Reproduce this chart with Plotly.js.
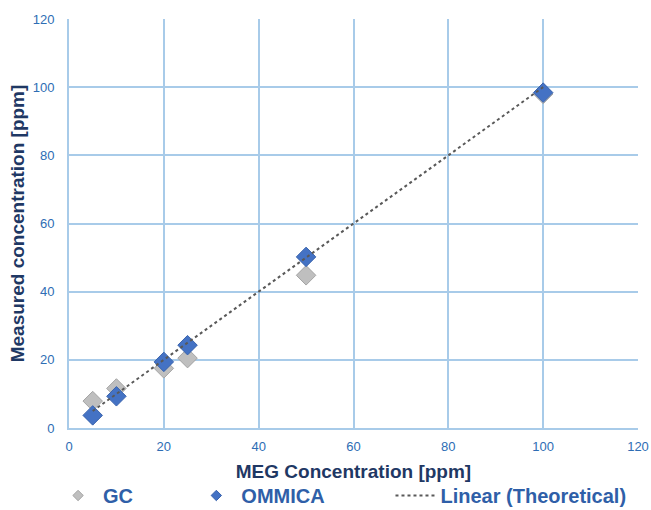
<!DOCTYPE html>
<html><head><meta charset="utf-8">
<script src="https://cdn.plot.ly/plotly-3.0.1.min.js"></script>
<style>body{margin:0;background:#fff}#c{width:651px;height:510px}</style>
</head><body><div id="c"></div>
<script>
const xConc = [5, 10, 20, 25, 50, 100];
const gcVals = [7.9, 11.6, 17.5, 20.5, 44.8, 98.0];
const ommicaVals = [3.7, 9.3, 19.4, 24.3, 50.2, 98.4];
const linX = [5, 100];
const linY = [5, 100];
const xTicks = [0, 20, 40, 60, 80, 100, 120];
const yTicks = [0, 20, 40, 60, 80, 100, 120];

const gcMarker = {symbol: 'diamond', color: '#bfbfbf', line: {color: '#a5a5a5', width: 1}};
const omMarker = {symbol: 'diamond', color: '#4472c4', line: {color: '#3a64ad', width: 1}};

const traces = [
  {x: xConc, y: gcVals, name: 'GC', mode: 'markers', type: 'scatter', showlegend: false,
   marker: Object.assign({size: 15}, gcMarker)},
  {x: xConc, y: ommicaVals, name: 'OMMICA', mode: 'markers', type: 'scatter', showlegend: false,
   marker: Object.assign({size: 15}, omMarker)},
  {x: linX, y: linY, name: 'Linear (Theoretical)', mode: 'lines', type: 'scatter', legend: 'legend3',
   line: {color: '#595959', width: 2, dash: 'dot'}},
  {x: [null], y: [null], name: 'GC', mode: 'markers', type: 'scatter', legend: 'legend',
   marker: Object.assign({size: 8}, gcMarker)},
  {x: [null], y: [null], name: 'OMMICA', mode: 'markers', type: 'scatter', legend: 'legend2',
   marker: Object.assign({size: 8}, omMarker)}
];
const legFont = {size: 20, color: '#2f5fa8', family: 'Liberation Sans, Arial, sans-serif', weight: 'bold'};
const legBase = {orientation: 'h', y: -0.165, yanchor: 'middle', xanchor: 'left', font: legFont,
  itemwidth: 40, bgcolor: 'rgba(0,0,0,0)'};
const layout = {
  width: 651, height: 510,
  margin: {l: 69, r: 13, t: 19, b: 82, autoexpand: false},
  paper_bgcolor: '#fff', plot_bgcolor: '#fff',
  font: {family: 'Liberation Sans, Arial, sans-serif', color: '#2e6db4', size: 13},
  showlegend: true,
  legend: Object.assign({x: -0.028}, legBase),
  legend2: Object.assign({x: 0.215}, legBase),
  legend3: Object.assign({x: 0.565}, legBase),
  xaxis: {range: [0, 120], tickvals: xTicks, showgrid: true, gridcolor: '#a8cbe9', gridwidth: 2,
    zeroline: false, showline: true, linecolor: '#a8cbe9', linewidth: 2, automargin: false,
    ticks: '', ticklabelstandoff: 5, tickfont: {size: 13, color: '#2e6db4'},
    title: {text: '<b>MEG Concentration [ppm]</b>', font: {size: 19, color: '#1f3864'}, standoff: 12}},
  yaxis: {range: [0, 120], tickvals: yTicks, showgrid: true, gridcolor: '#a8cbe9', gridwidth: 2,
    zeroline: false, showline: true, linecolor: '#a8cbe9', linewidth: 2, automargin: false,
    ticks: '', ticklabelstandoff: 10, tickfont: {size: 13, color: '#2e6db4'},
    title: {text: '<b>Measured concentration [ppm]</b>', font: {size: 19, color: '#1f3864'}, standoff: 3}}
};
Plotly.newPlot('c', traces, layout, {displayModeBar: false, staticPlot: true});
</script></body></html>
